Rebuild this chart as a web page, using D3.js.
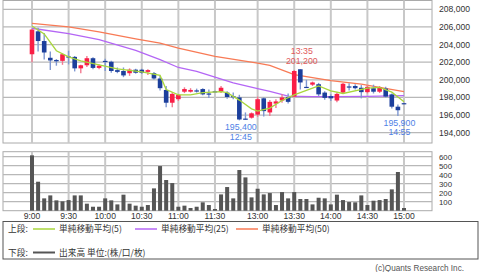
<!DOCTYPE html>
<head>
<meta charset="utf-8">
<script src="https://d3js.org/d3.v7.min.js"></script>
<style>
  body { margin: 0; background: #fff; }
  text { font-family: "Liberation Sans", Arial, sans-serif; fill: #333; }
  .jp { font-family: "Noto Sans CJK JP", sans-serif; }
</style>
</head>
<body>
<script>
// 5-minute bars, 9:00-11:30 and 12:30-15:00
var open  = [202900,205500,204400,202500,202250,202150,202650,202600,201300,201650,202450,201350,202150,202050,201100,201000,200750,201150,201150,200900,200750,200150,198850,197400,197800,198650,198650,198800,198950,198450,198700,198650,198550,198150,198000,195600,195700,196050,197900,196300,197300,197650,198050,198100,201200,199200,199450,199500,198550,198150,197650,198550,199250,199300,199100,198600,199050,198650,199000,198350,196950,197350]
var high  = [205700,205900,205300,203200,202350,203000,203300,202700,201700,202700,202550,201750,202400,202150,201400,201400,201300,201250,201250,201200,200900,200450,199300,198600,198400,199150,199050,199000,199050,198900,198750,199300,198700,198550,198300,196300,196300,198100,198000,197700,197800,198350,198450,201100,201200,200000,199800,199650,198700,198350,198550,199650,199600,199500,199400,199400,199450,199300,199200,198450,197200,197400]
var low   = [202000,203200,202300,201100,201600,201700,201750,200950,200750,201450,201200,201200,201000,200800,200750,200300,200450,200700,200650,200550,200000,198800,196900,196900,197600,198500,198550,198550,198250,197950,198650,198500,197850,197800,195400,195500,195600,195800,195850,195900,196800,197400,197300,198000,198900,199100,199300,198150,197750,197600,197450,198450,198800,198900,197900,198450,198450,198500,198000,196750,195900,197300]
var close = [205700,204400,203100,202200,202100,202900,202550,201300,201650,202450,201350,201600,202050,201000,200900,200500,201150,200800,200800,201100,200150,199050,197400,198400,198300,198950,198850,198750,198350,198400,198700,199100,198050,198100,195500,195550,196200,197800,196450,197500,197550,198000,197500,201000,199700,199150,199700,198350,197950,197900,198400,199550,199200,199050,198600,199200,198650,199150,198100,196950,196550,197300]
var volume = [615,322,137,170,115,104,118,170,170,78,44,44,137,115,70,178,78,56,44,63,248,496,341,307,44,56,30,44,93,63,19,181,263,137,452,370,148,244,181,196,63,207,137,207,130,130,70,144,137,70,178,118,96,93,170,63,111,118,130,237,430,30]

// moving averages (bar index, price)
var ma5Idx  = [0,2,4,6,8,11,14,18,21,22,24,26,28,31,32,34,36,37,39,41,43,46,47,49,51,55,57,59,61]
var ma5Val  = [206100,205200,203300,202600,202150,201700,201250,200900,200500,198900,198300,198300,198550,198650,198550,197700,196700,196450,196800,197650,198300,199050,199300,198750,198450,199050,199150,198600,197500]
var ma25Idx = [0,6,11,17,21,24,27,30,33,37,39,42,46,50,55,61]
var ma25Val = [205850,205250,204550,203350,202300,201400,200950,200300,199650,199000,198700,198150,198100,198100,198130,198200]
var ma50Idx = [0,6,11,17,21,24,30,37,39,43,46,49,54,57,61]
var ma50Val = [206400,206000,205450,204650,204150,203600,202650,201900,201650,200600,200250,199900,199500,199150,198650]

var tickIdx    = [0,6,12,18,24,30,37,43,49,55,61]
var tickLabels = ["9:00","9:30","10:00","10:30","11:00","11:30","13:00","13:30","14:00","14:30","15:00"]
var priceTicks = [194000,196000,198000,200000,202000,204000,206000,208000]
var volTicks   = [100,200,300,400,500,600]

var marks = [
  {idx: 44, price: 201200, time: "13:35", hi: true},
  {idx: 34, price: 195400, time: "12:45", hi: false},
  {idx: 60, price: 195900, time: "14:55", hi: false}
]

var svg = d3.select("body").append("svg").attr("width", 480).attr("height", 272)

var left = 3, right = 432
var x = d3.scaleLinear().domain([0, 61]).range([32, 404])
var y = d3.scaleLinear().domain([194000, 208000]).range([132.7, 9.3])
var yv = d3.scaleLinear().domain([0, 600]).range([210.7, 156.7])
var fmt = d3.format(",")

// PRICE PANEL
var upper = svg.append("g")
upper.append("rect").attr("x", left).attr("y", 0.5).attr("width", right-left).attr("height", 142.5)
  .attr("fill", "#fff").attr("stroke", "#aaa")
upper.selectAll(".hg").data(priceTicks).enter().append("line")
  .attr("x1", left).attr("x2", right).attr("y1", d => y(d)).attr("y2", d => y(d))
  .attr("stroke", "#b8b8b8").attr("stroke-width", 1.2)
upper.selectAll(".vg").data(tickIdx).enter().append("line")
  .attr("x1", d => x(d)).attr("x2", d => x(d)).attr("y1", 0.5).attr("y2", 143)
  .attr("stroke", "#c8c8c8").attr("stroke-width", 2)
upper.selectAll(".pl").data(priceTicks).enter().append("text")
  .attr("x", 439).attr("y", d => y(d) + 3).attr("font-size", 8.6).text(d => fmt(d))

function maLine(idx, val, color) {
  var line = d3.line().x(d => x(d[0])).y(d => y(d[1]))
  upper.append("path").datum(d3.zip(idx, val)).attr("d", line)
    .attr("fill", "none").attr("stroke", color).attr("stroke-width", 1.3)
}
maLine(ma50Idx, ma50Val, "#f87a55")
maLine(ma25Idx, ma25Val, "#b466f5")

var bars = d3.range(open.length)
var candles = upper.selectAll(".c").data(bars).enter().append("g")
candles.append("line")
  .attr("x1", i => x(i)).attr("x2", i => x(i))
  .attr("y1", i => y(high[i])).attr("y2", i => y(low[i]))
  .attr("stroke", i => close[i] > open[i] ? "#f27a90" : "#7f98d2").attr("stroke-width", 1.4)
candles.append("rect")
  .attr("x", i => x(i) - 2.3).attr("width", 4.6)
  .attr("y", i => y(Math.max(open[i], close[i])))
  .attr("height", i => Math.max(1.2, Math.abs(y(open[i]) - y(close[i]))))
  .attr("fill", i => close[i] > open[i] ? "#fa1e46" : "#1c3f9c")

maLine(ma5Idx, ma5Val, "#a9d63c")

marks.forEach(function(m) {
  var cx = x(m.idx) + 1.5
  var col = m.hi ? "#e05a5a" : "#4f7fe6"
  var py = y(m.price)
  var l1 = m.hi ? m.time : fmt(m.price)
  var l2 = m.hi ? fmt(m.price) : m.time
  var b1 = m.hi ? py - 15 : py + 9.8
  upper.append("text").attr("x", cx).attr("y", b1).attr("text-anchor", "middle")
    .attr("font-size", 8.8).style("fill", col).text(l1)
  upper.append("text").attr("x", cx).attr("y", b1 + 9.5).attr("text-anchor", "middle")
    .attr("font-size", 8.8).style("fill", col).text(l2)
})

// VOLUME PANEL
var vol = svg.append("g")
vol.append("rect").attr("x", left).attr("y", 151.7).attr("width", right-left).attr("height", 59)
  .attr("fill", "#fff").attr("stroke", "#aaa")
vol.selectAll(".hg").data(volTicks).enter().append("line")
  .attr("x1", left).attr("x2", right).attr("y1", d => yv(d)).attr("y2", d => yv(d))
  .attr("stroke", "#b8b8b8").attr("stroke-width", 1.2)
vol.selectAll(".vg").data(tickIdx).enter().append("line")
  .attr("x1", d => x(d)).attr("x2", d => x(d)).attr("y1", 151.7).attr("y2", 210.7)
  .attr("stroke", "#c8c8c8").attr("stroke-width", 2)
vol.selectAll(".b").data(bars).enter().append("rect")
  .attr("x", i => x(i) - 2).attr("width", 4)
  .attr("y", i => yv(volume[i])).attr("height", i => yv(0) - yv(volume[i]))
  .attr("fill", "#555")
vol.selectAll(".vl").data(volTicks).enter().append("text")
  .attr("x", 439).attr("y", d => yv(d) + 2.9).attr("font-size", 7.8).text(d => d)
svg.selectAll(".xl").data(tickIdx).enter().append("text")
  .attr("x", d => x(d)).attr("y", 219.3).attr("text-anchor", "middle")
  .attr("font-size", 8.6).text((d, i) => tickLabels[i])

// LEGEND
var leg = svg.append("g")
leg.append("rect").attr("x", 3).attr("y", 221.5).attr("width", 475).attr("height", 37.5)
  .attr("fill", "#fff").attr("stroke", "#555")
var legItems = [
  {x1: 33, x2: 55, y: 229, color: "#a9d63c", w: 1.5, label: "単純移動平均(5)"},
  {x1: 135, x2: 157, y: 229, color: "#b466f5", w: 1.5, label: "単純移動平均(25)"},
  {x1: 236, x2: 258, y: 229, color: "#f87a55", w: 1.5, label: "単純移動平均(50)"},
  {x1: 33, x2: 55, y: 252.5, color: "#555", w: 2, label: "出来高 単位:(株/口/枚)"}
]
leg.selectAll(".ll").data(legItems).enter().append("line")
  .attr("x1", d => d.x1).attr("x2", d => d.x2).attr("y1", d => d.y).attr("y2", d => d.y)
  .attr("stroke", d => d.color).attr("stroke-width", d => d.w)
leg.selectAll(".lt").data(legItems).enter().append("text").attr("class", "jp")
  .attr("x", d => d.x2 + 4).attr("y", d => d.y + 3.1).attr("font-size", 8.7).text(d => d.label)
leg.append("text").attr("class", "jp").attr("x", 8).attr("y", 232.1).attr("font-size", 8.7).text("上段:")
leg.append("text").attr("class", "jp").attr("x", 8).attr("y", 255.6).attr("font-size", 8.7).text("下段:")

svg.append("text").attr("x", 464).attr("y", 271).attr("text-anchor", "end")
  .attr("font-size", 8.2).style("fill", "#555").text("(c)Quants Research Inc.")
</script>
</body>
